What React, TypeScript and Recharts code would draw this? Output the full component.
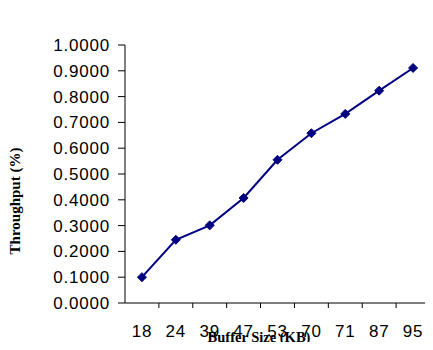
import { LineChart, Line, XAxis, YAxis } from 'recharts';

const bufferSizes = ['18', '24', '39', '47', '53', '70', '71', '87', '95'];
const throughput = [0.1, 0.245, 0.301, 0.407, 0.555, 0.658, 0.733, 0.823, 0.911];
const yTicks = [0, 0.1, 0.2, 0.3, 0.4, 0.5, 0.6, 0.7, 0.8, 0.9, 1.0];

const data = bufferSizes.map((size, i) => ({ size, throughput: throughput[i] }));

const PLOT_W = 305;
const BAND = PLOT_W / bufferSizes.length;
const tickFont = { fontFamily: '"Liberation Sans", Arial, sans-serif', fontSize: 17, letterSpacing: 0.8, fill: '#000' };
const serif = { fontFamily: '"Liberation Serif", "DejaVu Serif", serif', fontWeight: 700 };

function XTick(props: any) {
  const { x, y, payload } = props;
  return (
    <g>
      <line x1={x + BAND / 2} x2={x + BAND / 2} y1={y} y2={y + 5} stroke="#000" />
      <text x={x} y={y + 34} textAnchor="middle" {...tickFont}>{payload.value}</text>
    </g>
  );
}

function Diamond(props: any) {
  const { cx, cy } = props;
  if (cx == null || cy == null) return null;
  const r = 4.5;
  return <path d={`M${cx},${cy - r}L${cx + r},${cy}L${cx},${cy + r}L${cx - r},${cy}Z`} fill="#000080" stroke="#000080" />;
}

export default function App() {
  return (
    <div style={{ margin: -8, width: 433, height: 350, background: '#fff' }}>
      <LineChart width={433} height={350} data={data} margin={{ top: 45, right: 3, left: 0, bottom: 0 }}>
        <XAxis
          dataKey="size"
          scale="band"
          height={47}
          tickSize={0}
          tickMargin={0}
          tickLine={false}
          interval={0}
          axisLine={{ stroke: '#000' }}
          tick={<XTick />}
          label={{
            content: () => (
              <text x={259} y={342} textAnchor="middle" fill="#000" style={{ ...serif, fontSize: 14.5 }}>Buffer Size (KB)</text>
            ),
          }}
        />
        <YAxis
          domain={[0, 1]}
          ticks={yTicks}
          width={125}
          interval={0}
          tickSize={7}
          tickMargin={8}
          axisLine={{ stroke: '#000' }}
          tickLine={{ stroke: '#000' }}
          tick={tickFont}
          tickFormatter={(v: number) => v.toFixed(4)}
          label={{
            content: () => (
              <text x={0} y={0} transform="translate(20,201) rotate(-90)" textAnchor="middle" fill="#000" style={{ ...serif, fontSize: 15 }}>Throughput (%)</text>
            ),
          }}
        />
        <Line
          dataKey="throughput"
          type="linear"
          stroke="#000080"
          strokeWidth={2}
          dot={<Diamond />}
          activeDot={false}
          isAnimationActive={false}
        />
      </LineChart>
    </div>
  );
}
